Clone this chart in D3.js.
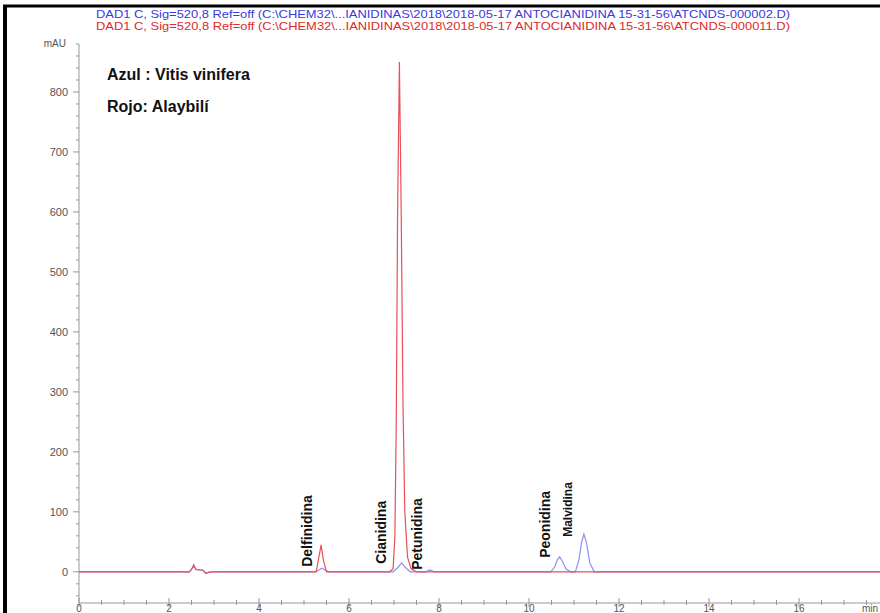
<!DOCTYPE html>
<html><head><meta charset="utf-8">
<script src="https://cdn.jsdelivr.net/npm/d3@7"></script>
<style>body{margin:0;background:#fff}svg{display:block}</style>
</head><body>
<svg id="c" width="880" height="613"></svg>
<script>
const headerLines = [
  "DAD1 C, Sig=520,8 Ref=off (C:\\CHEM32\\...IANIDINAS\\2018\\2018-05-17 ANTOCIANIDINA 15-31-56\\ATCNDS-000002.D)",
  "DAD1 C, Sig=520,8 Ref=off (C:\\CHEM32\\...IANIDINAS\\2018\\2018-05-17 ANTOCIANIDINA 15-31-56\\ATCNDS-000011.D)"
];
const legendLines = ["Azul : Vitis vinifera", "Rojo: Alaybilí"];
const xTicks = [0, 2, 4, 6, 8, 10, 12, 14, 16];
const yTicks = [0, 100, 200, 300, 400, 500, 600, 700, 800];
// Blue trace: Vitis vinifera (time min, mAU)
const blueTime = [0, 2.45, 2.5, 2.55, 2.6, 2.68, 2.75, 2.82, 2.88, 2.95, 5.25, 5.33, 5.4, 5.47, 5.55, 6.98, 7.07, 7.17, 7.27, 7.36, 7.7, 7.8, 7.9, 10.48, 10.57, 10.63, 10.68, 10.74, 10.82, 10.92, 11.03, 11.11, 11.17, 11.22, 11.28, 11.35, 11.45, 17.8];
const blueVal  = [0, 0, 4, 10, 4, 3, 3, -2, -1, 0, 0, 3, 6, 3, 0, 0, 6, 15, 6, 0, 0, 3, 0, 0, 8, 20, 25, 18, 5, 0, 0, 20, 50, 63, 48, 15, 0, 0];
// Red trace: Alaybilí
const redTime = [0, 2.45, 2.5, 2.55, 2.6, 2.68, 2.75, 2.82, 2.88, 2.95, 5.27, 5.32, 5.38, 5.43, 5.5, 6.9, 6.98, 7.02, 7.05, 7.08, 7.12, 7.16, 7.2, 7.24, 7.3, 7.38, 7.5, 17.8];
const redVal  = [0, 0, 4, 12, 4, 3, 3, -3, -1, 0, 0, 20, 45, 20, 0, 0, 5, 60, 250, 600, 850, 600, 280, 100, 25, 5, 0, 0];
const peakNames = ["Delfinidina", "Cianidina", "Petunidina", "Peonidina", "Malvidina"];
const peakTimes = [5.17, 6.83, 7.62, 10.47, 10.95];
const peakLabelBase = [5, 10, 0, 20, 55];
const peakLabelSize = [14, 14, 14, 14, 12];

const svg = d3.select("#c");
const x = d3.scaleLinear().domain([0, 17.8]).range([79, 880]);
const y = d3.scaleLinear().domain([-52, 880]).range([603, 44]);

// frame
svg.append("line").attr("x1",5).attr("x2",5).attr("y1",5).attr("y2",613).attr("stroke","#000").attr("stroke-width",4);
svg.append("line").attr("x1",3).attr("x2",880).attr("y1",6).attr("y2",6).attr("stroke","#000").attr("stroke-width",3);

// header
const hdrColors = ["#3a3ae0", "#e02a2a"];
headerLines.forEach((t,i)=>{
  svg.append("text").attr("x",96).attr("y",17.5+i*12).attr("font-family","Liberation Sans, Arial, sans-serif")
    .attr("font-size",10.5).attr("fill",hdrColors[i]).attr("textLength",694).attr("lengthAdjust","spacingAndGlyphs").text(t);
});

// y axis
const gy = svg.append("g");
gy.append("line").attr("x1",79).attr("x2",79).attr("y1",y(880)).attr("y2",603).attr("stroke","#999");
d3.range(-40, 881, 20).forEach(v=>{
  const major = v % 100 === 0;
  gy.append("line").attr("x1", major?73:76).attr("x2",79).attr("y1",y(v)).attr("y2",y(v)).attr("stroke","#999");
});
yTicks.forEach(v=>{
  gy.append("text").attr("x",68).attr("y",y(v)+4).attr("text-anchor","end").attr("font-family","Liberation Sans, Arial, sans-serif")
    .attr("font-size",11).attr("fill","#555").text(v);
});
gy.append("text").attr("x",66).attr("y",y(880)+3).attr("text-anchor","end").attr("font-family","Liberation Sans, Arial, sans-serif")
  .attr("font-size",10).attr("fill","#555").text("mAU");

// x axis
const gx = svg.append("g");
gx.append("line").attr("x1",79).attr("x2",880).attr("y1",603).attr("y2",603).attr("stroke","#999");
d3.range(0, 17.8, 0.5).forEach(v=>{
  const major = v % 2 === 0;
  gx.append("line").attr("x1",x(v)).attr("x2",x(v)).attr("y1",major?598:600).attr("y2",major?607:605).attr("stroke","#999");
});
xTicks.forEach(v=>{
  gx.append("text").attr("x",x(v)).attr("y",612).attr("text-anchor","middle").attr("font-family","Liberation Sans, Arial, sans-serif")
    .attr("font-size",10).attr("fill","#555").text(v);
});
gx.append("text").attr("x",878).attr("y",612).attr("text-anchor","end").attr("font-family","Liberation Sans, Arial, sans-serif")
  .attr("font-size",10).attr("fill","#555").text("min");

// traces
const line = d3.line().x(d=>x(d[0])).y(d=>y(d[1]));
svg.append("path").datum(blueTime.map((t,i)=>[t, blueVal[i]])).attr("d",line).attr("fill","none").attr("stroke","#8f8ff0").attr("stroke-width",1.2);
svg.append("path").datum(redTime.map((t,i)=>[t, redVal[i]])).attr("d",line).attr("fill","none").attr("stroke","#e8505a").attr("stroke-width",1.2);

// legend
legendLines.forEach((t,i)=>{
  svg.append("text").attr("x",107).attr("y",80+i*32).attr("font-family","Liberation Sans, Arial, sans-serif")
    .attr("font-weight","bold").attr("font-size",16).attr("fill","#111").text(t);
});

// peak labels
peakNames.forEach((n,i)=>{
  const px = x(peakTimes[i]), py = y(peakLabelBase[i]) - 2;
  svg.append("text").attr("transform",`translate(${px},${py}) rotate(-90)`).attr("font-family","Liberation Sans, Arial, sans-serif")
    .attr("font-weight","bold").attr("font-size",peakLabelSize[i]).attr("fill","#111").text(n);
});
</script>
</body></html>
